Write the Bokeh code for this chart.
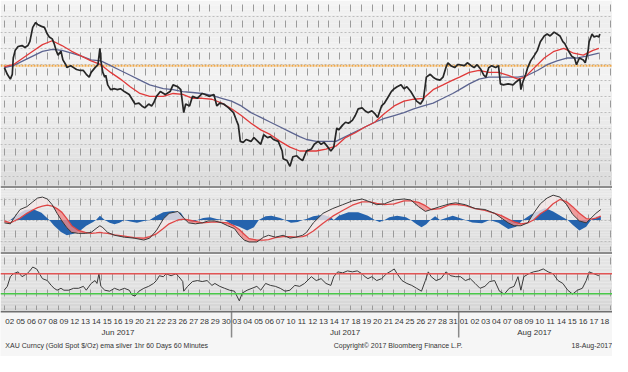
import numpy as np
from bokeh.plotting import figure
from bokeh.layouts import column
from bokeh.models import Range1d, FixedTicker, Span, Grid
from bokeh.embed import file_html
from bokeh.resources import INLINE
from bokeh.core.properties import value

# ---------------- data (x = trading-day index, 0 = 02 Jun 2017) ----------------
DAY_LABELS = ["02", "05", "06", "07", "08", "09", "12", "13", "14", "15", "16", "19", "20", "21",
              "22", "23", "26", "27", "28", "29", "30",
              "03", "04", "05", "06", "07", "10", "11", "12", "13", "14", "17", "18", "19", "20",
              "21", "24", "25", "26", "27", "28", "31",
              "01", "02", "03", "04", "07", "08", "09", "10", "11", "14", "15", "16", "17", "18"]
MONTHS = ["Jun 2017", "Jul 2017", "Aug 2017"]
MONTH_DAYS = [21, 21, 14]

PRICE_D = [-0.50, -0.23, 0.05, 0.23, 0.32, 0.50, 0.77, 1.13, 1.40, 1.67,
           1.85, 2.03, 2.12, 2.39, 2.57, 2.93, 3.20, 3.47, 3.65, 3.92,
           4.10, 4.28, 4.46, 4.73, 4.91, 5.18, 5.27, 5.63, 5.90, 6.17,
           6.53, 6.80, 7.07, 7.34, 7.52, 7.88, 8.15, 8.33, 8.42, 8.60,
           8.78, 8.87, 9.05, 9.32, 9.68, 9.95, 10.23, 10.59, 11.04, 11.31,
           11.58, 11.94, 12.21, 12.48, 12.84, 13.11, 13.29, 13.56, 13.92, 14.37,
           14.82, 15.09, 15.54, 15.81, 16.08, 16.26, 16.62, 16.89, 17.34, 17.79,
           18.06, 18.42, 18.87, 19.14, 19.41, 19.77, 20.23, 20.68, 20.95, 21.13,
           21.31, 21.58, 21.85, 22.30, 22.57, 22.93, 23.20, 23.47, 23.83, 24.10,
           24.37, 24.82, 25.18, 25.27, 25.63, 25.90, 26.17, 26.53, 26.80, 27.07,
           27.43, 27.88, 28.15, 28.51, 28.78, 29.05, 29.41, 29.68, 29.95, 30.23,
           30.41, 30.77, 31.04, 31.31, 31.67, 31.94, 32.21, 32.57, 32.84, 33.11,
           33.47, 33.74, 34.01, 34.37, 34.64, 34.91, 35.27, 35.54, 35.81, 36.17,
           36.44, 36.71, 37.07, 37.34, 37.61, 37.97, 38.24, 38.51, 38.87, 39.14,
           39.41, 39.77, 40.05, 40.32, 40.50, 40.77, 41.13, 41.40, 41.58, 42.03,
           42.30, 42.66, 42.93, 43.20, 43.56, 43.83, 44.01, 44.28, 44.55, 44.91,
           45.18, 45.36, 45.63, 46.08, 46.53, 46.80, 47.16, 47.25, 47.43, 47.70,
           47.88, 48.15, 48.51, 48.78, 49.05, 49.41, 49.68, 49.95, 50.32, 50.59,
           50.86, 51.13, 51.31, 51.67, 51.94, 52.21, 52.39, 52.66, 53.02, 53.20,
           53.47, 53.56, 53.83, 54.01, 54.28, 54.46, 54.55]
PRICE = [1268.2, 1264.0, 1261.0, 1264.0, 1274.2, 1279.0, 1281.4, 1282.0, 1280.8, 1282.0,
         1284.4, 1290.4, 1293.4, 1296.4, 1295.2, 1294.0, 1293.4, 1289.2, 1287.4, 1286.2,
         1283.2, 1279.0, 1276.0, 1278.4, 1273.0, 1270.0, 1268.2, 1269.4, 1268.2, 1267.0,
         1266.4, 1266.4, 1264.0, 1262.2, 1265.2, 1268.2, 1270.0, 1280.2, 1272.4, 1265.2,
         1262.2, 1263.4, 1257.4, 1254.4, 1255.0, 1254.4, 1255.0, 1253.2, 1251.4, 1248.4,
         1245.4, 1246.0, 1244.2, 1243.0, 1245.4, 1244.2, 1246.0, 1250.2, 1253.2, 1251.4,
         1253.2, 1257.4, 1256.2, 1254.4, 1240.0, 1245.4, 1244.2, 1250.2, 1249.0, 1252.0,
         1251.4, 1250.2, 1251.4, 1244.2, 1246.0, 1245.4, 1243.0, 1240.0, 1235.2, 1232.2,
         1222.0, 1221.4, 1223.2, 1222.0, 1224.4, 1222.0, 1220.2, 1226.2, 1224.4, 1225.0,
         1223.2, 1222.0, 1216.0, 1211.2, 1210.0, 1206.4, 1212.4, 1213.0, 1211.2, 1210.0,
         1216.0, 1217.2, 1220.2, 1222.0, 1220.2, 1221.4, 1218.4, 1216.0, 1218.4, 1230.4,
         1229.2, 1232.2, 1234.0, 1233.4, 1235.2, 1238.2, 1242.4, 1243.0, 1241.2, 1240.0,
         1241.2, 1239.4, 1237.0, 1244.2, 1246.0, 1249.0, 1253.2, 1255.0, 1256.2, 1257.4,
         1255.0, 1256.2, 1253.2, 1250.2, 1247.2, 1245.4, 1248.4, 1262.2, 1264.0, 1262.2,
         1261.0, 1260.4, 1262.2, 1268.2, 1271.2, 1269.4, 1268.2, 1270.0, 1270.0, 1269.4,
         1271.2, 1269.4, 1268.2, 1270.0, 1267.0, 1263.4, 1262.2, 1268.2, 1269.4, 1268.2,
         1269.4, 1258.0, 1257.4, 1258.0, 1257.4, 1259.2, 1261.0, 1254.4, 1259.2, 1264.0,
         1268.2, 1272.4, 1276.0, 1279.0, 1284.4, 1288.0, 1289.2, 1288.0, 1290.4, 1289.2,
         1288.0, 1284.4, 1283.2, 1278.4, 1275.4, 1274.2, 1270.0, 1274.2, 1273.0, 1271.2,
         1279.0, 1284.4, 1289.2, 1287.4, 1288.0, 1287.4, 1289.2]

EMA_FAST_D = [-0.50, 0.32, 1.22, 2.12, 3.02, 3.92, 4.82, 5.72, 6.62, 7.52,
              8.42, 9.32, 10.23, 11.13, 12.03, 12.93, 14.19, 15.09, 15.99, 16.89,
              17.79, 18.69, 19.59, 20.50, 21.40, 22.30, 23.20, 24.10, 25.00, 25.90,
              26.80, 27.43, 28.33, 29.23, 30.14, 31.04, 31.94, 32.84, 33.74, 34.64,
              35.54, 36.44, 37.34, 38.24, 39.14, 40.05, 40.95, 41.58, 42.48, 43.38,
              44.28, 45.18, 46.08, 46.98, 47.61, 48.51, 49.41, 50.32, 51.22, 52.12,
              53.02, 53.92, 54.46]
EMA_FAST = [1268.8, 1270.0, 1274.2, 1278.4, 1282.6, 1285.0, 1282.0, 1278.4, 1275.4, 1272.4,
            1270.0, 1265.2, 1261.0, 1256.2, 1252.0, 1250.2, 1250.2, 1252.0, 1251.4, 1249.0,
            1249.0, 1248.4, 1246.0, 1242.4, 1238.2, 1233.4, 1229.2, 1226.2, 1222.0, 1218.4,
            1216.0, 1216.0, 1216.0, 1217.2, 1219.0, 1224.4, 1227.4, 1231.0, 1234.0, 1239.4,
            1244.2, 1247.2, 1248.4, 1249.0, 1254.4, 1257.4, 1260.4, 1262.2, 1265.2, 1266.4,
            1265.2, 1265.2, 1263.4, 1261.0, 1262.2, 1268.2, 1274.2, 1278.4, 1280.2, 1277.2,
            1276.0, 1279.0, 1280.2]

EMA_SLOW_D = [-0.50, 0.32, 1.22, 2.12, 3.02, 3.92, 4.82, 5.72, 6.62, 7.52,
              8.42, 9.32, 10.23, 11.13, 12.03, 12.93, 14.19, 15.09, 15.99, 16.89,
              17.79, 18.69, 19.59, 20.50, 21.40, 22.30, 23.20, 24.10, 25.00, 25.90,
              26.80, 27.43, 28.33, 29.23, 30.14, 31.04, 31.94, 32.84, 33.74, 34.64,
              35.54, 36.44, 37.34, 38.24, 39.14, 40.05, 40.95, 41.58, 42.48, 43.38,
              44.28, 45.18, 46.08, 46.98, 47.88, 48.78, 49.68, 50.59, 51.49, 52.39,
              53.29, 54.46]
EMA_SLOW = [1268.2, 1269.4, 1272.4, 1275.4, 1278.4, 1279.6, 1279.0, 1277.2, 1275.4, 1273.0,
            1272.4, 1269.4, 1266.4, 1263.4, 1260.4, 1257.4, 1255.0, 1254.4, 1253.2, 1252.6,
            1252.0, 1250.8, 1249.0, 1247.2, 1244.2, 1240.0, 1237.0, 1234.0, 1231.0, 1228.0,
            1225.0, 1223.2, 1222.0, 1222.0, 1222.0, 1225.0, 1228.0, 1231.0, 1234.0, 1236.4,
            1238.2, 1240.0, 1242.4, 1244.2, 1246.0, 1249.0, 1252.0, 1254.4, 1258.0, 1261.0,
            1262.2, 1262.2, 1262.2, 1262.2, 1263.4, 1266.4, 1270.0, 1272.4, 1274.2, 1274.2,
            1275.4, 1277.2]

REF_LEVEL = 1269.4          # orange dotted level

MACD_D = [-0.50, 0.05, 0.50, 0.95, 1.58, 2.12, 2.57, 3.02, 3.47, 3.92,
          4.37, 4.82, 5.27, 5.72, 6.35, 6.98, 7.52, 7.97, 8.33, 8.60,
          9.05, 9.68, 10.59, 11.49, 12.39, 12.93, 13.56, 14.19, 14.73, 15.54,
          16.08, 16.53, 17.16, 17.79, 18.33, 18.96, 19.59, 20.14, 20.77, 21.22,
          21.67, 22.12, 22.84, 23.47, 23.92, 24.55, 25.27, 25.90, 26.44, 27.07,
          27.43, 28.06, 28.96, 29.86, 30.77, 31.67, 32.57, 33.29, 33.92, 34.64,
          35.54, 36.44, 37.07, 37.79, 38.42, 38.96, 39.77, 40.68, 41.22, 42.12,
          43.02, 43.92, 44.82, 45.45, 46.08, 46.62, 47.25, 47.88, 48.42, 49.05,
          49.68, 50.23, 50.86, 51.49, 52.03, 52.66, 53.29, 53.74, 54.19, 54.64]
MACD = [-0.6, -0.8, 0.8, 2.2, 2.8, 3.8, 4.6, 4.8, 4.4, 3.2,
        1.4, -0.2, -1.6, -2.6, -2.8, -2.8, -2.6, -1.8, -1.2, -1.6,
        -2.6, -3.2, -3.6, -3.8, -4.2, -3.8, -2.2, 0.2, 1.4, 1.8,
        0.4, -0.6, -0.8, -0.6, -0.2, -0.2, -0.6, -1.2, -1.8, -3.2,
        -4.2, -4.6, -4.6, -3.6, -3.2, -3.6, -3.2, -3.8, -3.6, -3.2,
        -2.6, -0.6, 1.4, 2.4, 3.2, 4.0, 4.4, 3.8, 3.2, 3.4,
        4.2, 4.4, 4.2, 2.8, 1.8, 2.2, 2.8, 3.4, 3.6, 3.2,
        2.4, 2.2, 1.4, 0.4, -0.6, -1.2, -1.2, -0.6, 1.4, 3.4,
        4.6, 5.2, 4.8, 3.2, 1.2, -0.2, -0.6, 0.4, 1.4, 2.2]
SIGNAL = [-0.2, -0.6, -0.1, 0.4, 1.4, 2.1, 2.6, 2.9, 3.1, 2.9,
          2.4, 1.6, 0.3, -1.2, -2.2, -2.6, -2.8, -2.7, -2.6, -2.7,
          -2.8, -3.1, -3.4, -3.7, -3.8, -3.5, -2.9, -1.8, -0.8, 0.0,
          0.2, 0.0, -0.3, -0.6, -0.5, -0.4, -0.5, -0.6, -1.3, -2.0,
          -3.0, -3.9, -4.2, -4.2, -4.1, -3.7, -3.5, -3.5, -3.6, -3.5,
          -3.2, -2.3, -0.7, 0.8, 2.0, 3.1, 3.8, 3.8, 3.5, 3.2,
          3.4, 4.0, 4.0, 3.7, 3.0, 2.2, 2.4, 3.2, 3.3, 3.0,
          2.4, 2.0, 1.4, 0.9, 0.2, -0.4, -0.8, -0.6, 0.0, 1.3,
          2.2, 3.4, 4.3, 3.8, 2.8, 1.4, 0.3, 0.2, 0.4, 0.8]

HIST_D = [-0.50, 0.05, 0.68, 1.40, 2.12, 2.93, 3.65, 4.10, 4.73, 5.27,
          5.90, 6.53, 7.07, 7.70, 7.97, 8.33, 8.78, 9.23, 9.68, 10.14,
          10.59, 11.13, 11.76, 12.39, 12.93, 13.56, 14.19, 15.09, 15.81, 16.26,
          16.89, 17.34, 17.88, 18.51, 19.14, 19.86, 20.50, 21.22, 21.94, 22.57,
          23.02, 23.65, 24.19, 25.00, 25.45, 25.99, 26.62, 27.07, 27.43, 28.06,
          28.96, 29.68, 29.95, 30.41, 31.31, 32.21, 33.11, 33.74, 34.19, 34.64,
          35.09, 35.81, 36.62, 37.07, 37.61, 38.06, 38.51, 38.87, 39.32, 39.77,
          40.32, 40.95, 41.58, 42.12, 42.75, 43.65, 44.37, 45.18, 46.08, 46.80,
          47.43, 48.15, 48.87, 49.50, 50.23, 51.13, 51.58, 52.03, 52.66, 53.29,
          53.74, 54.19, 54.64]
HIST = [0.0, 0.0, 1.1, 2.1, 2.3, 1.5, 0.0, -1.2, -2.5, -3.2,
        -2.9, -2.2, -1.2, -0.4, 0.0, 0.9, 0.0, -0.6, -0.9, -0.6,
        0.0, -0.3, -0.6, -0.2, 0.0, 0.9, 1.6, 1.9, 1.5, 0.0,
        -0.5, 0.0, 0.4, 0.6, 0.2, 0.0, -0.9, -1.4, -2.2, -1.5,
        0.0, 0.8, 0.9, 0.4, 0.0, -0.6, -0.4, 0.0, 0.2, 0.8,
        1.1, 0.6, 0.0, 0.9, 1.6, 1.6, 0.9, 0.0, -0.4, 0.0,
        0.6, 0.9, 0.6, 0.0, -0.9, -1.5, -0.9, 0.0, 0.8, 0.0,
        0.4, 0.9, 0.4, 0.0, -0.5, -0.7, 0.0, -0.6, -1.9, -1.4,
        0.0, 1.1, 1.9, 2.5, 1.8, 0.6, 0.0, -1.0, -2.2, -1.4,
        0.0, 0.8, 0.8]

RSI_D = [-0.50, -0.23, 0.05, 0.32, 0.77, 1.13, 1.58, 1.85, 2.12, 2.48,
         2.75, 3.02, 3.47, 3.83, 4.10, 4.37, 4.73, 5.00, 5.45, 5.90,
         6.35, 6.80, 7.07, 7.52, 7.88, 8.06, 8.24, 8.42, 8.78, 9.23,
         9.68, 10.14, 10.59, 11.04, 11.31, 11.58, 11.94, 12.39, 12.84, 13.29,
         13.56, 13.83, 14.19, 14.46, 14.91, 15.36, 15.63, 15.99, 16.08, 16.44,
         16.89, 17.34, 17.79, 18.24, 18.69, 18.96, 19.41, 19.86, 20.32, 20.77,
         21.22, 21.49, 21.94, 22.39, 22.84, 23.20, 23.65, 24.10, 24.55, 25.00,
         25.45, 25.90, 26.35, 26.80, 27.25, 27.88, 28.33, 28.78, 29.23, 29.68,
         29.95, 30.32, 30.77, 31.22, 31.67, 32.12, 32.57, 32.84, 33.11, 33.47,
         33.92, 34.37, 34.82, 35.27, 35.54, 35.81, 36.26, 36.71, 37.16, 37.61,
         38.06, 38.42, 38.69, 38.96, 39.41, 39.86, 40.32, 40.77, 41.22, 41.67,
         42.12, 42.57, 43.02, 43.47, 43.92, 44.37, 44.82, 45.27, 45.72, 46.17,
         46.62, 46.98, 47.25, 47.52, 47.97, 48.42, 48.87, 49.32, 49.77, 50.23,
         50.68, 51.13, 51.58, 52.03, 52.48, 52.93, 53.29, 53.56, 54.01, 54.46]
RSI = [37.7, 44.9, 64.2, 70.0, 73.9, 64.2, 70.0, 75.8, 83.5, 79.7,
       70.0, 60.3, 56.5, 46.8, 41.0, 37.2, 41.0, 37.2, 37.2, 41.0,
       41.0, 44.9, 37.2, 50.7, 56.5, 50.7, 70.0, 44.9, 37.2, 35.2,
       41.0, 37.2, 41.0, 37.2, 27.5, 25.6, 35.2, 41.0, 44.9, 50.7,
       56.5, 66.1, 64.2, 70.0, 66.1, 70.0, 64.2, 54.5, 35.2, 44.9,
       54.5, 56.5, 54.5, 56.5, 46.8, 50.7, 44.9, 41.0, 37.2, 35.2,
       15.9, 31.4, 37.2, 41.0, 44.9, 37.2, 50.7, 46.8, 44.9, 41.0,
       35.2, 37.2, 46.8, 44.9, 50.7, 64.2, 56.5, 60.3, 50.7, 46.8,
       64.2, 73.9, 71.9, 75.8, 73.9, 75.8, 70.0, 64.2, 60.3, 64.2,
       56.5, 60.3, 70.0, 75.8, 79.7, 70.0, 56.5, 50.7, 46.8, 41.0,
       35.2, 56.5, 73.9, 64.2, 56.5, 60.3, 73.9, 66.1, 64.2, 64.2,
       56.5, 60.3, 50.7, 41.0, 44.9, 54.5, 56.5, 35.2, 29.4, 41.0,
       44.9, 64.2, 37.2, 64.2, 70.0, 73.9, 75.8, 79.7, 73.9, 70.0,
       56.5, 50.7, 37.2, 29.4, 37.2, 41.0, 56.5, 73.9, 70.0, 66.1]
RSI_HIGH, RSI_LOW = 70, 30

FOOT_LEFT = "XAU Curncy (Gold Spot   $/Oz) ema silver 1hr 60 Days 60 Minutes"
FOOT_MID = "Copyright\u00a9 2017 Bloomberg Finance L.P."
FOOT_RIGHT = "18-Aug-2017"

# ---------------- layout ----------------
W = 612
FONT = value("Liberation Sans")
xr = Range1d(-0.86, 55.72)
n_days = len(DAY_LABELS)
day_bounds = [i - 0.5 for i in range(n_days + 1)]
cum = np.cumsum(MONTH_DAYS)
month_bounds = [float(c) - 0.5 for c in cum[:-1]]
month_centers = [float(s) + (n - 1) / 2 for s, n in zip(np.concatenate([[0], cum[:-1]]), MONTH_DAYS)]


def panel(h, yr, sep=0):
    p = figure(width=W, height=h, x_range=xr, y_range=yr, output_backend="svg",
               toolbar_location=None, x_axis_type=None, y_axis_type=None, min_border=0)
    p.min_border_bottom = sep
    p.outline_line_color = None
    p.border_fill_color = "#8c8c8c"
    p.add_layout(Grid(dimension=0, ticker=FixedTicker(ticks=day_bounds), grid_line_color="#9a9a9a",
                      grid_line_dash="7 9", grid_line_dash_offset=2, grid_line_width=1))
    return p


def gradient(p, yr, stops, n=40):
    f = np.linspace(0, 1, n + 1)
    edges = yr.end - f * (yr.end - yr.start)
    mids = (f[:-1] + f[1:]) / 2
    g = np.interp(mids, [s[0] for s in stops], [s[1] for s in stops])
    cols = ["#%02x%02x%02x" % (int(v), int(v), int(v)) for v in g]
    p.quad(left=xr.start, right=xr.end, top=edges[:-1], bottom=edges[1:],
           fill_color=cols, line_color=None, level="image")


# main price panel
yr_main = Range1d(1194.4, 1310.2)
pm = panel(188, yr_main, sep=3)
gradient(pm, yr_main, [(0, 246), (0.1, 238), (0.4, 243), (0.7, 233), (1.0, 220)])
pm.add_layout(Grid(dimension=1, ticker=FixedTicker(ticks=list(range(1200, 1301, 10))),
                   grid_line_color="#bdbdbd", grid_line_dash="2 2"))
pm.add_layout(Span(location=REF_LEVEL, dimension="width", line_color="#f0a848",
                   line_width=2, line_dash="2 1", level="underlay"))
pm.line(EMA_SLOW_D, EMA_SLOW, line_color="#5c6490", line_width=1.3)
pm.line(EMA_FAST_D, EMA_FAST, line_color="#e03a3a", line_width=1.3)
pm.line(PRICE_D, PRICE, line_color="#262626", line_width=1.7)

# MACD panel
yr_macd = Range1d(-6.6, 6.6)
pc = panel(66, yr_macd, sep=3)
gradient(pc, yr_macd, [(0, 232), (0.5, 228), (1.0, 218)])
pc.add_layout(Grid(dimension=1, ticker=FixedTicker(ticks=[-4.4, 0, 4.4]),
                   grid_line_color="#bdbdbd", grid_line_dash="2 2"))
m = np.array(MACD)
s = np.array(SIGNAL)
top = np.maximum(m, s)
pc.varea(x=HIST_D, y1=np.zeros(len(HIST)), y2=HIST, fill_color="#2563ad")
pc.varea(x=MACD_D, y1=m, y2=top, fill_color="#f08888", fill_alpha=0.8)
pc.varea(x=MACD_D, y1=s, y2=top, fill_color="#f4e6e6", fill_alpha=0.8)
pc.line(MACD_D, SIGNAL, line_color="#e04646", line_width=1.3)
pc.line(MACD_D, MACD, line_color="#3a3a3a", line_width=1)

# RSI panel
yr_rsi = Range1d(-3.4, 108.6)
pr = panel(56, yr_rsi)
gradient(pr, yr_rsi, [(0, 230), (0.6, 224), (1.0, 212)])
pr.add_layout(Span(location=RSI_HIGH, dimension="width", line_color="#e25555", line_width=1.5))
pr.add_layout(Span(location=RSI_LOW, dimension="width", line_color="#48c848", line_width=1.5))
pr.line(RSI_D, RSI, line_color="#3a3a3a", line_width=1)

# date axis + footer
FH = 46
pf = figure(width=W, height=FH, x_range=xr, y_range=Range1d(0, FH), output_backend="svg",
            toolbar_location=None, x_axis_type=None, y_axis_type=None, min_border=0)
pf.outline_line_color = None
pf.background_fill_color = "#f6f6f6"
pf.border_fill_color = "#f6f6f6"
pf.add_layout(Span(location=FH - 1, dimension="width", line_color="#6f6f6f", line_width=2))
pf.segment(x0=month_bounds, y0=[FH] * len(month_bounds), x1=month_bounds, y1=[19] * len(month_bounds),
           line_color="#8a8a8a", line_width=1.5)
pf.text(x=list(range(n_days)), y=[FH - 10.6] * n_days, text=DAY_LABELS, text_align="center",
        text_baseline="middle", text_font=FONT, text_font_size="8px", text_color="#333333")
pf.text(x=month_centers, y=[FH - 22] * 3, text=MONTHS, text_align="center", text_baseline="middle",
        text_font=FONT, text_font_size="8px", text_color="#333333")
pf.text(x=[-0.41, 29.95], y=[11.5] * 2, text=[FOOT_LEFT, FOOT_MID],
        text_align="left", text_baseline="middle", text_font=FONT, text_font_size="7px",
        text_color="#333333")
pf.text(x=[55.68], y=[11.5], text=[FOOT_RIGHT], text_align="right", text_baseline="middle",
        text_font=FONT, text_font_size="7px", text_color="#333333")

layout = column(pm, pc, pr, pf, spacing=0)
open("out.html", "w").write(file_html(layout, INLINE))
